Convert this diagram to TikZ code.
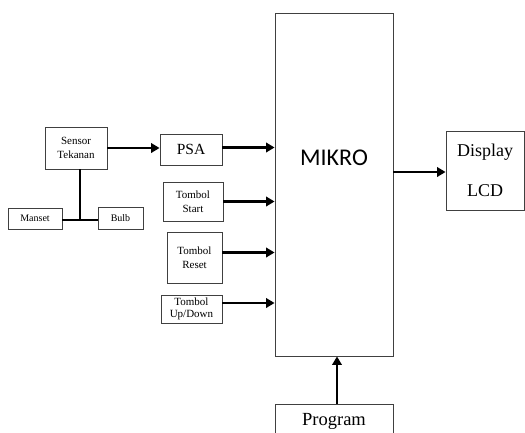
\documentclass[tikz,border=0pt]{standalone}
\usepackage{fontspec}
\setmainfont{Liberation Serif}
\newfontfamily\mikrofont{Carlito}
\usetikzlibrary{arrows.meta}
\begin{document}
\begin{tikzpicture}[x=1pt,y=-1pt,
  box/.style={draw=black!75,line width=0.9pt,rectangle,inner sep=0pt,align=center},
  smalltxt/.style={font=\fontsize{11}{14}\selectfont},
  tinytxt/.style={font=\fontsize{10}{12}\selectfont},
  arr/.style={line width=2.8pt,-{Triangle[length=8.5pt,width=9.5pt]}},
  ln/.style={line width=2.8pt}]
\useasboundingbox (0,0) rectangle (525,432);
\clip (0,0) rectangle (525,432);
\fill[white] (0,0) rectangle (525,432);
% boxes
\node[box,smalltxt,minimum width=62pt,minimum height=42pt] (sensor) at (76,148) {Sensor\\Tekanan};
\node[box,font=\fontsize{15.5}{18}\selectfont,minimum width=62pt,minimum height=31pt] (psa) at (191,149.5) {PSA};
\node[box,tinytxt,minimum width=54pt,minimum height=21pt] (manset) at (35,218.5) {Manset};
\node[box,tinytxt,minimum width=45pt,minimum height=22pt] (bulb) at (120.5,218) {Bulb};
\node[box,smalltxt,minimum width=60pt,minimum height=39pt] (start) at (193,201.5) {Tombol\\Start};
\node[box,smalltxt,minimum width=55pt,minimum height=51pt] (reset) at (194.5,257.5) {Tombol\\Reset};
\node[box,font=\fontsize{11}{12.5}\selectfont,minimum width=61pt,minimum height=28pt] (updown) at (191.5,309) {Tombol\\Up/Down};
\node[box,minimum width=118pt,minimum height=343pt] (mikro) at (334,184.5) {};
\node[font=\mikrofont\fontsize{24}{28}\selectfont] (mikrotxt) at (334,158) {MIKRO};
\node[box,font=\fontsize{18}{40}\selectfont,minimum width=78pt,minimum height=79pt] (display) at (485,170.5) {Display\\LCD};
\node[box,font=\fontsize{18.5}{22}\selectfont,minimum width=118pt,minimum height=34pt] (program) at (334,421) {Program};
% connectors
\coordinate (junc) at (80,220);
\draw[arr] (sensor.east) -- (sensor.east -| psa.west);
\draw[arr] ([yshift=2pt]psa.east) -- ([yshift=2pt]psa.east -| mikro.west);
\draw[arr] (start.east) -- (start.east -| mikro.west);
\draw[arr] ([yshift=5pt]reset.east) -- ([yshift=5pt]reset.east -| mikro.west);
\draw[arr] ([yshift=6pt]updown.east) -- ([yshift=6pt]updown.east -| mikro.west);
\draw[arr] ([yshift=-1.5pt]mikro.east |- display.west) -- ([yshift=-1.5pt]display.west);
\draw[arr] ([xshift=3pt]program.north) -- ([xshift=3pt]mikro.south);
\draw[ln] (sensor.south -| junc) -- (junc);
\draw[ln] (manset.east |- junc) -- (bulb.west |- junc);
\end{tikzpicture}
\end{document}
